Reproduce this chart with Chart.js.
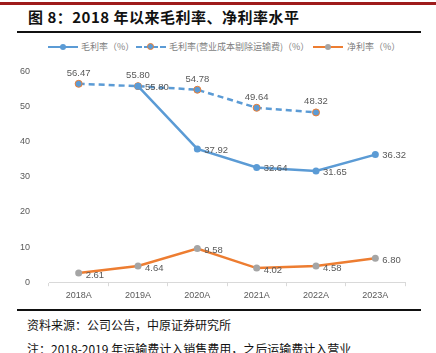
<!DOCTYPE html>
<html>
<head>
<meta charset="utf-8">
<script src="https://cdn.jsdelivr.net/npm/chart.js@4.4.0/dist/chart.umd.min.js"></script>
<style>
  body { margin: 0; width: 436px; height: 353px; background: #fff; position: relative; overflow: hidden; font-family: "Noto Sans CJK SC", sans-serif; }
  .redline { position: absolute; left: 0; top: 2px; width: 436px; height: 3px; background: #9e1b1b; }
  .title { position: absolute; left: 28px; top: 6px; font-size: 15px; font-weight: bold; color: #111; letter-spacing: 0.5px; }
  .rule { position: absolute; left: 17px; width: 404px; height: 2px; background: #111; }
  .legend { position: absolute; top: 40px; left: 0; width: 436px; height: 14px; font-family: "Noto Sans CJK SC", sans-serif; font-size: 9px; color: #7f7f7f; }
  .item { position: absolute; top: 0; height: 14px; line-height: 14px; white-space: nowrap; }
  .ln { position: absolute; top: 6px; width: 30px; height: 0; border-top: 2.5px solid; }
  .dot { position: absolute; top: 4px; width: 5px; height: 5px; border-radius: 50%; }
  .src { position: absolute; left: 27px; font-size: 12px; color: #111; white-space: nowrap; }
  #wrap { position: absolute; left: 0; top: 55px; width: 436px; height: 250px; }
</style>
</head>
<body>
<div class="redline"></div>
<div class="title">图 8：2018 年以来毛利率、净利率水平</div>
<div class="rule" style="top:31px"></div>

<div class="legend">
  <div class="item" style="left:48px">
    <span class="ln" style="left:0;border-color:#5b9bd5"></span>
    <span class="dot" style="left:12px;background:#5b9bd5;width:6px;height:6px;top:4px"></span>
    <span style="position:absolute;left:33px">毛利率（%）</span>
  </div>
  <div class="item" style="left:136px">
    <span class="ln" style="left:0;border-color:#5b9bd5;border-top-style:dashed"></span>
    <span class="dot" style="left:11px;background:#5b9bd5;border:1px solid #ed7d31;top:3px"></span>
    <span style="position:absolute;left:33px">毛利率(营业成本剔除运输费)（%）</span>
  </div>
  <div class="item" style="left:313px">
    <span class="ln" style="left:0;border-color:#ed7d31"></span>
    <span class="dot" style="left:12px;background:#a5a5a5;width:6px;height:6px;top:4px"></span>
    <span style="position:absolute;left:34px">净利率（%）</span>
  </div>
</div>

<div id="wrap"><canvas id="myChart"></canvas></div>

<div class="rule" style="top:309px"></div>
<div class="src" style="top:316px">资料来源：公司公告，中原证券研究所</div>
<div class="src" style="top:340px">注：2018-2019 年运输费计入销售费用，之后运输费计入营业</div>

<script>
const years = ['2018A', '2019A', '2020A', '2021A', '2022A', '2023A'];
const grossMargin = [null, 55.80, 37.92, 32.64, 31.65, 36.32];
const grossMarginExFreight = [56.47, 55.80, 54.78, 49.64, 48.32, null];
const netMargin = [2.61, 4.64, 9.58, 4.02, 4.58, 6.80];
const yTicks = [0, 10, 20, 30, 40, 50, 60];

// draw the value labels next to each point
const valueLabels = {
    id: 'valueLabels',
    afterDatasetsDraw(chart) {
        const ctx = chart.ctx;
        ctx.save();
        ctx.font = '9.5px "Liberation Sans", sans-serif';
        ctx.fillStyle = '#595959';
        chart.data.datasets.forEach((ds, i) => {
            const meta = chart.getDatasetMeta(i);
            meta.data.forEach((pt, j) => {
                const v = ds.data[j];
                if (v === null) return;
                const txt = v.toFixed(2);
                if (ds.labelPos === 'top') {
                    ctx.textAlign = 'center';
                    ctx.textBaseline = 'bottom';
                    ctx.fillText(txt, pt.x, pt.y - 6);
                } else {
                    ctx.textAlign = 'left';
                    ctx.textBaseline = 'middle';
                    ctx.fillText(txt, pt.x + 7, pt.y + (ds.labelDy || 0));
                }
            });
        });
        ctx.restore();
    }
};

const ctx = document.getElementById('myChart').getContext('2d');
const chart = new Chart(ctx, {
    type: 'line',
    data: {
        labels: years,
        datasets: [
            {
                label: '毛利率（%）',
                data: grossMargin,
                borderColor: '#5b9bd5',
                backgroundColor: '#5b9bd5',
                borderWidth: 2.5,
                pointRadius: 3.5,
                pointBorderWidth: 0,
                tension: 0,
                labelPos: 'right',
                labelDy: 1
            },
            {
                label: '毛利率(营业成本剔除运输费)（%）',
                data: grossMarginExFreight,
                borderColor: '#5b9bd5',
                backgroundColor: '#5b9bd5',
                borderDash: [6, 4],
                borderWidth: 2.5,
                pointRadius: 3.5,
                pointBorderColor: '#ed7d31',
                pointBackgroundColor: '#5b9bd5',
                pointBorderWidth: 1,
                tension: 0,
                labelPos: 'top'
            },
            {
                label: '净利率（%）',
                data: netMargin,
                borderColor: '#ed7d31',
                backgroundColor: '#a5a5a5',
                pointBackgroundColor: '#a5a5a5',
                borderWidth: 2.5,
                pointRadius: 3.5,
                pointBorderWidth: 0,
                tension: 0,
                labelPos: 'right',
                labelDy: 2
            }
        ]
    },
    options: {
        responsive: true,
        maintainAspectRatio: false,
        animation: false,
        layout: { padding: { top: 16, right: 31, left: 0, bottom: 0 } },
        plugins: {
            legend: { display: false },
            tooltip: { enabled: false }
        },
        elements: { line: { spanGaps: false } },
        scales: {
            x: {
                offset: true,
                grid: { display: true, drawOnChartArea: false, offset: true, tickLength: 4, color: '#d9d9d9' },
                border: { display: true, color: '#d9d9d9', width: 1 },
                ticks: { color: '#595959', font: { size: 9, family: '"Liberation Sans", sans-serif' }, padding: 4 }
            },
            y: {
                min: 0,
                max: 60,
                afterFit(scale) { scale.width = 49; },
                afterBuildTicks(scale) { scale.ticks = yTicks.map(v => ({ value: v })); },
                grid: { display: false },
                border: { display: false },
                ticks: { color: '#595959', font: { size: 9, family: '"Liberation Sans", sans-serif' }, padding: 11 }
            }
        }
    },
    plugins: [valueLabels]
});
</script>
</body>
</html>
